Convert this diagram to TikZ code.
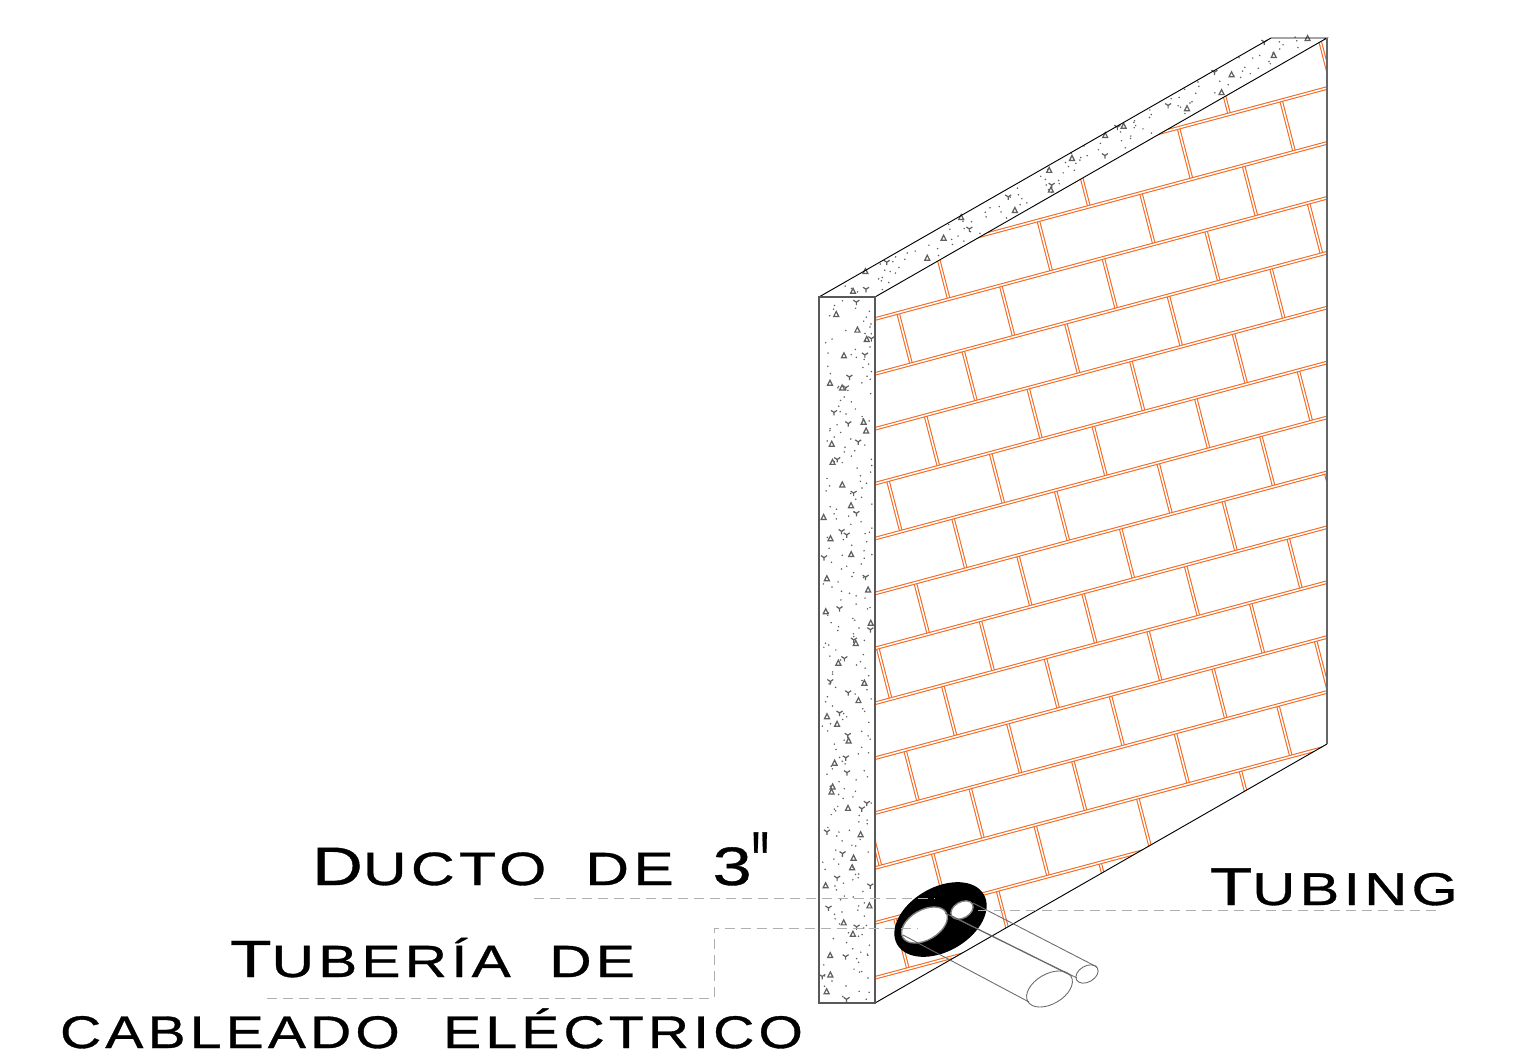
\documentclass[tikz,border=0pt]{standalone}
\usepackage{fontspec}
\usepackage{graphicx}
\newfontfamily\labfont[FakeStretch=1.3,LetterSpace=9,FakeBold=0.7]{Liberation Sans}
\newfontfamily\labfontb[FakeStretch=1.25,LetterSpace=9,FakeBold=0.7]{Liberation Sans}
\newcommand{\BigL}[1]{{\fontsize{38.8}{40}\selectfont #1}}
\definecolor{brick}{RGB}{242,105,35}
\definecolor{speck}{RGB}{95,95,95}
\definecolor{leader}{RGB}{175,175,175}
\definecolor{tubeline}{RGB}{105,105,105}
\newcommand{\speckset}[5]{%
  \foreach \i in {1,...,#1}{%
    \pgfmathsetmacro{\ru}{(\i-1+rnd)/#1}\pgfmathsetmacro{\rv}{rnd}%
    \pgfmathsetmacro{\rx}{#4}\pgfmathsetmacro{\ry}{#5}%
    \fill[speck] (\rx,\ry) circle (0.85);}%
  \foreach \i in {1,...,#2}{%
    \pgfmathsetmacro{\ru}{(\i-1+rnd)/#2}\pgfmathsetmacro{\rv}{rnd}%
    \pgfmathsetmacro{\rx}{#4}\pgfmathsetmacro{\ry}{#5}%
    \draw[speck,line width=.9pt,shift={(\rx,\ry)}] (-2.5,2) -- (0,-3) -- (2.5,2) -- cycle;}%
  \foreach \i in {1,...,#3}{%
    \pgfmathsetmacro{\ru}{(\i-1+rnd)/#3}\pgfmathsetmacro{\rv}{rnd}%
    \pgfmathsetmacro{\rx}{#4}\pgfmathsetmacro{\ry}{#5}%
    \draw[speck,line width=.9pt,shift={(\rx,\ry)}] (-3,-2) -- (0,0) -- (3,-2) (0,0) -- (0,3);}%
}
\tikzset{
  bedjoint/.style={draw=brick,double=white,line width=.8pt,double distance=1.1pt},
  wallthin/.style={draw=black,line width=.7pt},
  wallfront/.style={draw=black!65,line width=1.1pt},
  leaderline/.style={draw=leader,dash pattern=on 7.5pt off 4.5pt,line width=.75pt},
  tubeedge/.style={draw=tubeline,line width=.65pt},
  holeedge/.style={draw=black!50,fill=white,line width=1pt},
  lab/.style={anchor=base west,inner sep=0pt,outer sep=0pt,text=black}
}
\begin{document}
\begin{tikzpicture}[x=.75pt,y=-.75pt]
\useasboundingbox (0,0) rectangle (1532,1059);
\fill[white] (0,0) rectangle (1532,1059);
\pgfmathsetseed{4217}
% concrete top and front faces
\speckset{110}{16}{10}{819+50*\rv+6+448*\ru}{294-257*\ru}
\speckset{250}{40}{36}{822+50*\rv}{300+700*\ru}
% bricks
\begin{scope}
\clip (875,297) -- (1327,38) -- (1327,744) -- (875,1003) -- cycle;
\foreach \k in {-3,...,12}{
  \pgfmathsetmacro{\yy}{319+54.9*\k}
  \foreach \n in {-6,...,16}{
    \pgfmathsetmacro{\xt}{898-37.6*\k+102.6*\n}
    \pgfmathtruncatemacro{\show}{(\xt>800)&&(\xt<1400)?1:0}
    \ifnum\show=1
      \pgfmathsetmacro{\ya}{\yy-0.268*(\xt-875)}
      \pgfmathsetmacro{\yb}{\yy+54.9-0.268*(\xt+13.2-875)}
      \pgfmathsetmacro{\xb}{\xt+13.2}
      \draw[bedjoint] (\xt,\ya) -- (\xb,\yb);
    \fi
  }
}
\foreach \k in {-3,...,13}{
  \pgfmathsetmacro{\yy}{319+54.9*\k}
  \pgfmathsetmacro{\yz}{\yy-0.268*452}
  \draw[bedjoint] (870,\yy+1.34) -- (1332,\yz-1.34);
}
\end{scope}
% wall outline
\draw[wallthin] (819,297) -- (1271,38) -- (1327,38) -- (875,297);
\draw[wallthin] (875,1003) -- (1327,744);
\draw[draw=black!60,line width=.9pt] (1327,38) -- (1327,744);
\draw[wallfront] (819,297) rectangle (875,1003);
% duct
\fill[black,rotate around={30:(940.5,919.5)}] (940.5,919.5) ellipse (50 and 32);
\draw[holeedge,rotate around={30:(924.5,925)}] (924.5,925) ellipse (25 and 15);
\draw[holeedge,rotate around={30:(962,910)}] (962,910) ellipse (12 and 8);
% tubes
\coordinate (bigA) at (903,935);
\coordinate (bigB) at (1029,1002);
\coordinate (bigC) at (945,913);
\coordinate (bigD) at (1070,975);
\coordinate (smallA) at (973,903);
\coordinate (smallB) at (1097,967);
\coordinate (smallC) at (952,916);
\coordinate (smallD) at (1077,978);
\draw[tubeedge,rotate around={30:(1049.5,989)}] (1049.5,989) ellipse (25 and 15);
\draw[tubeedge,rotate around={30:(1087,974)}] (1087,974) ellipse (12 and 8);
\draw[tubeedge] (bigA) -- (bigB);
\draw[tubeedge] (bigC) -- (bigD);
\draw[tubeedge] (smallA) -- (smallB);
\draw[tubeedge] (smallC) -- (smallD);
% labels
\node[lab] (ducto) at (312,885) {\resizebox{339.75pt}{!}{\labfont\BigL{D}\fontsize{33.5}{35}\selectfont UCTO\hspace{.83em}DE\hspace{.83em}\BigL{3}\raisebox{-.25em}{\scalebox{.8}[2]{\textquotedbl}}}};
\node[lab] (tuberia) at (230,977) {\resizebox{303.75pt}{!}{\labfont\BigL{T}\fontsize{33.5}{35}\selectfont UBERÍA\hspace{.85em}DE}};
\node[lab] (cableado) at (60,1048) {\resizebox{557.25pt}{!}{\labfontb\fontsize{33.5}{35}\selectfont CABLEADO\hspace{.95em}ELÉCTRICO}};
\node[lab] (tubing) at (1210,905) {\resizebox{186pt}{!}{\labfont\BigL{T}\fontsize{33.5}{35}\selectfont UBING}};
% leaders
\coordinate (l1a) at (534,898);
\coordinate (l1b) at (935,898);
\coordinate (l2a) at (267,998);
\coordinate (l2b) at (714,998);
\coordinate (l2c) at (714,928);
\coordinate (l2d) at (918,928);
\coordinate (l3a) at (978,910);
\coordinate (l3b) at (1440,910);
\draw[leaderline] (l1a) -- (l1b);
\draw[leaderline] (l2a) -- (l2b) -- (l2c) -- (l2d);
\draw[leaderline] (l3a) -- (l3b);
\end{tikzpicture}
\end{document}
